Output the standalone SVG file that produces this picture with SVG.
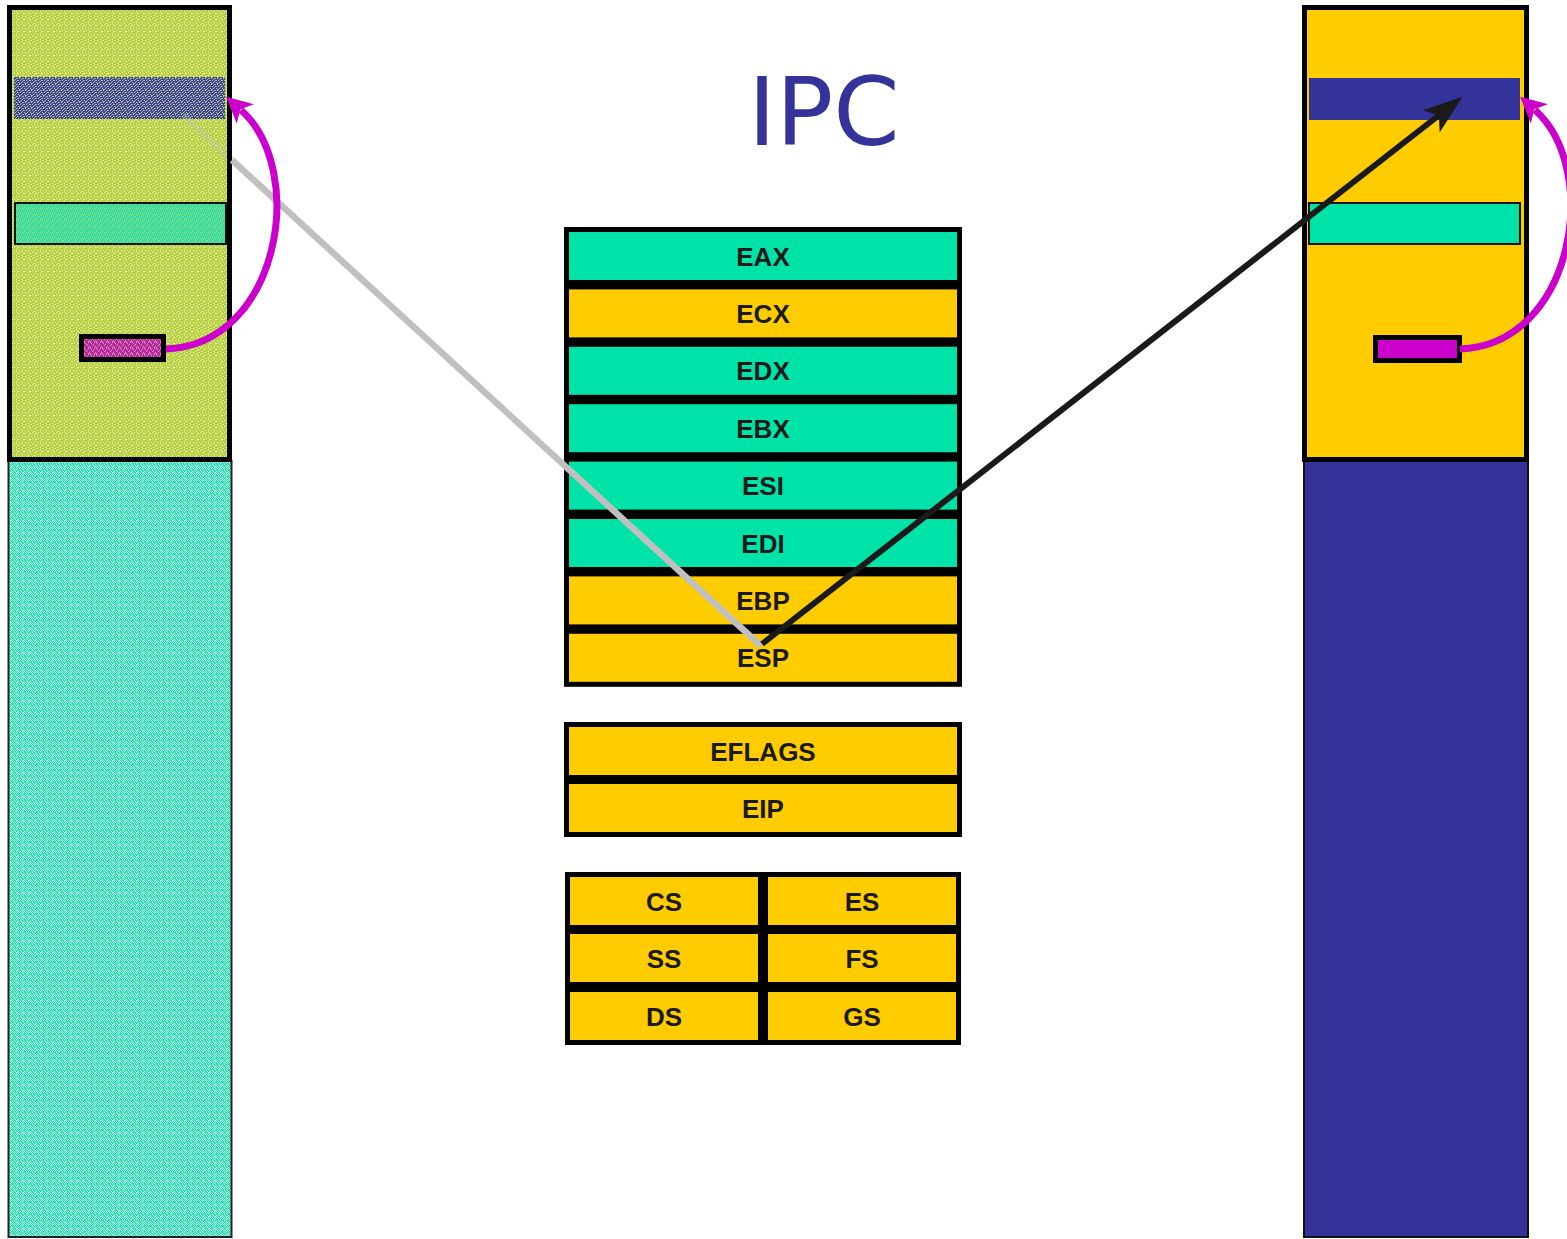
<svg xmlns="http://www.w3.org/2000/svg" width="1567" height="1239" viewBox="0 0 1567 1239">
<style>
  .reg rect { stroke: #000; stroke-width: 5; }
  .reg text { font-family: "Liberation Sans", Arial, sans-serif; font-weight: bold; font-size: 26px; fill: #1a1a1a; text-anchor: middle; }
  .g { fill: #00e3a8; }
  .y { fill: #ffcc00; }
  .box { stroke: #000; stroke-width: 5; }
  .band { stroke: #111; stroke-width: 2; }
  .title { font-family: "DejaVu Sans", Verdana, sans-serif; font-size: 95px; fill: #333399; }
  .magenta { fill: none; stroke: #cc00cc; stroke-width: 7; }
</style>
<defs>
  <pattern id="noiseY" patternUnits="userSpaceOnUse" width="6" height="6" shape-rendering="crispEdges">
    <rect width="6" height="6" fill="#eccf18"/>
    <path fill="#58d89a" d="M1 0h1v1h-1z M4 1h1v1h-1z M0 3h1v1h-1z M3 4h1v1h-1z M5 3h1v1h-1z M2 2h1v1h-1z M3 0h1v1h-1z M1 5h1v1h-1z M5 5h1v1h-1z"/>
    <path fill="#f0f0b8" d="M2 0h1v1h-1z M5 1h1v1h-1z M1 4h1v1h-1z M4 5h1v1h-1z M0 1h1v1h-1z M4 3h1v1h-1z"/>
    <path fill="#a8d850" d="M1 2h1v1h-1z M3 2h1v1h-1z M2 4h1v1h-1z"/>
  </pattern>
  <pattern id="noiseB" patternUnits="userSpaceOnUse" width="6" height="6" shape-rendering="crispEdges">
    <rect width="6" height="6" fill="#3c40ac"/>
    <path fill="#d8c838" d="M1 0h1v1h-1z M4 0h1v1h-1z M2 2h1v1h-1z M5 2h1v1h-1z M0 4h1v1h-1z M3 4h1v1h-1z M1 5h1v1h-1z"/>
    <path fill="#78c0a8" d="M3 1h1v1h-1z M0 2h1v1h-1z M4 3h1v1h-1z M2 5h1v1h-1z M5 0h1v1h-1z"/>
  </pattern>
  <pattern id="noiseG" patternUnits="userSpaceOnUse" width="6" height="6" shape-rendering="crispEdges">
    <rect width="6" height="6" fill="#38dc9c"/>
    <path fill="#b8d860" d="M1 1h1v1h-1z M4 2h1v1h-1z M2 4h1v1h-1z M5 5h1v1h-1z"/>
    <path fill="#8ae8c0" d="M3 0h1v1h-1z M0 3h1v1h-1z M4 4h1v1h-1z"/>
  </pattern>
  <pattern id="noiseM" patternUnits="userSpaceOnUse" width="6" height="6" shape-rendering="crispEdges">
    <rect width="6" height="6" fill="#c020b8"/>
    <path fill="#e0b040" d="M1 1h1v1h-1z M4 0h1v1h-1z M2 3h1v1h-1z M5 4h1v1h-1z M0 5h1v1h-1z"/>
    <path fill="#70c8a0" d="M3 2h1v1h-1z M0 0h1v1h-1z M4 5h1v1h-1z"/>
  </pattern>
  <pattern id="noiseMint" patternUnits="userSpaceOnUse" width="6" height="6" shape-rendering="crispEdges">
    <rect width="6" height="6" fill="#28e2b4"/>
    <path fill="#d4faec" d="M1 0h1v1h-1z M4 1h1v1h-1z M0 3h1v1h-1z M3 3h1v1h-1z M5 4h1v1h-1z M2 5h1v1h-1z M2 2h1v1h-1z M5 0h1v1h-1z M0 5h1v1h-1z M4 4h1v1h-1z"/>
    <path fill="#80eed0" d="M2 1h1v1h-1z M5 2h1v1h-1z M1 4h1v1h-1z M4 5h1v1h-1z M3 0h1v1h-1z"/>
  </pattern>
  <marker id="headBlack" markerUnits="userSpaceOnUse" markerWidth="40" markerHeight="28" viewBox="0 0 40 28" refX="12" refY="14" orient="auto">
    <path d="M0,0 L40,14 L0,28 L10,14 z" fill="#1a1a1a"/>
  </marker>
  <marker id="headMagenta" markerUnits="userSpaceOnUse" markerWidth="26" markerHeight="26" viewBox="0 0 26 26" refX="6" refY="13" orient="auto">
    <path d="M0,0 L26,13 L0,26 L7,13 z" fill="#cc00cc"/>
  </marker>
</defs>

<rect width="1567" height="1239" fill="#fff"/>

<g id="left-memory">
  <rect x="8.5" y="461" width="223" height="776" fill="url(#noiseMint)" stroke="#222" stroke-width="2"/>
  <rect x="9.5" y="7.5" width="220" height="452" fill="url(#noiseY)"/>
  <rect x="14" y="77" width="211" height="42" fill="url(#noiseB)"/>
  <line x1="183" y1="115" x2="232" y2="160" stroke="#c0c0c0" stroke-width="6.5" opacity="0.3"/>
  <rect class="band" x="15" y="203" width="211" height="41" fill="url(#noiseG)"/>
  <rect class="box" x="81.5" y="336.5" width="82" height="23" fill="url(#noiseM)"/>
  <rect class="box" x="9.5" y="7.5" width="220" height="452" fill="none"/>
</g>

<g id="right-memory">
  <rect x="1304" y="461" width="224" height="776" fill="#333399" stroke="#111" stroke-width="2"/>
  <rect class="box" x="1304.5" y="7.5" width="222" height="452" fill="#ffcc00"/>
  <rect x="1309" y="78" width="211" height="42" fill="#333399"/>
  <rect class="band" x="1309" y="203" width="211" height="41" fill="#00e3a8"/>
  <rect class="box" x="1375.5" y="337.5" width="84" height="23" fill="#cc00cc"/>
</g>

<g id="title">
  <text class="title" x="748" y="145">IPC</text>
</g>

<g id="registers">
  <g id="reg-eax" class="reg"><rect class="g" x="566.5" y="229.5" width="393" height="53"/><text x="763" y="265.5">EAX</text></g>
  <g id="reg-ecx" class="reg"><rect class="y" x="566.5" y="286.9" width="393" height="53"/><text x="763" y="322.9">ECX</text></g>
  <g id="reg-edx" class="reg"><rect class="g" x="566.5" y="344.3" width="393" height="53"/><text x="763" y="380.3">EDX</text></g>
  <g id="reg-ebx" class="reg"><rect class="g" x="566.5" y="401.7" width="393" height="53"/><text x="763" y="437.7">EBX</text></g>
  <g id="reg-esi" class="reg"><rect class="g" x="566.5" y="459.1" width="393" height="53"/><text x="763" y="495.1">ESI</text></g>
  <g id="reg-edi" class="reg"><rect class="g" x="566.5" y="516.5" width="393" height="53"/><text x="763" y="552.5">EDI</text></g>
  <g id="reg-ebp" class="reg"><rect class="y" x="566.5" y="573.9" width="393" height="53"/><text x="763" y="609.9">EBP</text></g>
  <g id="reg-esp" class="reg"><rect class="y" x="566.5" y="631.3" width="393" height="53"/><text x="763" y="667.3">ESP</text></g>

  <g id="reg-eflags" class="reg"><rect class="y" x="566.5" y="724.5" width="393" height="53"/><text x="763" y="760.5">EFLAGS</text></g>
  <g id="reg-eip" class="reg"><rect class="y" x="566.5" y="781.5" width="393" height="53"/><text x="763" y="817.5">EIP</text></g>

  <g id="reg-cs" class="reg"><rect class="y" x="567.5" y="874.5" width="193" height="53"/><text x="664" y="910.5">CS</text></g>
  <g id="reg-ss" class="reg"><rect class="y" x="567.5" y="931.5" width="193" height="53"/><text x="664" y="967.5">SS</text></g>
  <g id="reg-ds" class="reg"><rect class="y" x="567.5" y="989.5" width="193" height="53"/><text x="664" y="1025.5">DS</text></g>
  <g id="reg-es" class="reg"><rect class="y" x="765.5" y="874.5" width="193" height="53"/><text x="862" y="910.5">ES</text></g>
  <g id="reg-fs" class="reg"><rect class="y" x="765.5" y="931.5" width="193" height="53"/><text x="862" y="967.5">FS</text></g>
  <g id="reg-gs" class="reg"><rect class="y" x="765.5" y="989.5" width="193" height="53"/><text x="862" y="1025.5">GS</text></g>
</g>

<g id="connectors">
  <line x1="232" y1="160" x2="761" y2="646" stroke="#c0c0c0" stroke-width="6.5"/>
  <line x1="762" y1="644" x2="1440.5" y2="114" stroke="#1a1a1a" stroke-width="6" marker-end="url(#headBlack)"/>
  <path class="magenta" d="M166,349 C280,345 308,170 241,110" marker-end="url(#headMagenta)"/>
  <path class="magenta" d="M1460,349 C1574,345 1602,170 1535,110" marker-end="url(#headMagenta)"/>
</g>
</svg>
